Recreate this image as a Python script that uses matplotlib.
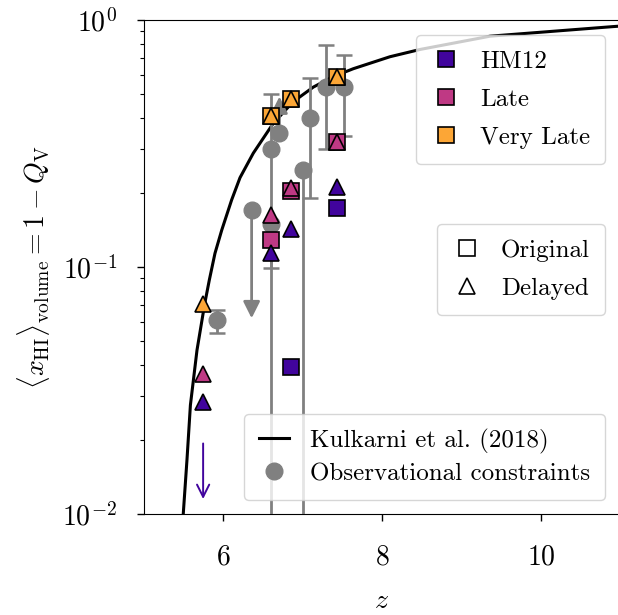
import numpy as np
import matplotlib
matplotlib.use('Agg')
import matplotlib.pyplot as plt
from matplotlib.lines import Line2D

plt.rcParams['font.family'] = 'serif'
plt.rcParams['font.serif'] = ['cmr10']
plt.rcParams['mathtext.fontset'] = 'cm'
plt.rcParams['axes.formatter.use_mathtext'] = True
plt.rcParams['axes.unicode_minus'] = False

# Kulkarni et al. (2018) curve
kul_z = [5.50, 5.547, 5.59, 5.673, 5.77, 5.828, 5.899, 5.984, 6.109, 6.214, 6.381, 6.633,
         6.884, 7.136, 7.387, 7.639, 8.10, 8.48, 9.36, 10.9, 11.0]
kul_x = [0.010, 0.0166, 0.0276, 0.0461, 0.071, 0.0886, 0.1136, 0.141, 0.187, 0.23, 0.289,
         0.382, 0.467, 0.535, 0.59, 0.635, 0.71, 0.76, 0.86, 0.94, 0.945]

# Observational constraints (with errors)
obs_z = [5.92, 6.60, 6.60, 7.00, 7.09, 7.30, 7.52]
obs_x = [0.061, 0.30, 0.15, 0.247, 0.40, 0.537, 0.537]
obs_lo = [0.054, 0.001, 0.099, 0.001, 0.19, 0.30, 0.34]
obs_hi = [0.067, 0.50, 0.15, 0.247, 0.58, 0.79, 0.72]
# observational points without error bar / limits
obs_pt_z = [6.71]
obs_pt_x = [0.35]
upper_lim_z = [6.36]
upper_lim_x = [0.17]
upper_lim_tip = [0.062]
lower_lim_z = [6.71]
lower_lim_x = [0.35]
lower_lim_tip = [0.49]

# Models
model_z = [5.75, 6.60, 6.86, 7.44]
models = ['HM12', 'Late', 'Very Late']
orig = {
    'HM12': [np.nan, np.nan, 0.0395, 0.173],
    'Late': [np.nan, 0.129, 0.204, 0.32],
    'Very Late': [np.nan, 0.41, 0.48, 0.59],
}
delayed = {
    'HM12': [0.0285, 0.114, 0.142, 0.211],
    'Late': [0.037, 0.163, 0.208, 0.32],
    'Very Late': [0.071, 0.41, 0.48, 0.59],
}
hm12_arrow_z = 5.75
hm12_arrow_from = 0.0193
hm12_arrow_to = 0.0115

cmap = plt.get_cmap('plasma')
colors = {'HM12': cmap(0.1), 'Late': cmap(0.45), 'Very Late': cmap(0.8)}
gray = '#808080'

fig = plt.figure(figsize=(6.18, 6.15), dpi=100)
ax = fig.add_axes([143.5 / 618, 1 - 514 / 615, 477 / 618, 494 / 615])

ax.plot(kul_z, kul_x, color='k', lw=2.2, zorder=2)

err = np.array([np.array(obs_x) - np.array(obs_lo), np.array(obs_hi) - np.array(obs_x)])
ax.errorbar(obs_z, obs_x, yerr=err, fmt='o', color=gray, ms=12, elinewidth=2,
            capsize=6, capthick=1.8, zorder=3)
ax.plot(obs_pt_z, obs_pt_x, 'o', color=gray, ms=12, zorder=3)
for z, x0, x1 in zip(upper_lim_z, upper_lim_x, upper_lim_tip):
    ax.plot([z], [x0], 'o', color=gray, ms=12, zorder=3)
    ax.annotate('', xy=(z, x1), xytext=(z, x0),
                arrowprops=dict(arrowstyle='-|>', color=gray, lw=2, mutation_scale=25,
                                shrinkA=0, shrinkB=0), zorder=3)
for z, x0, x1 in zip(lower_lim_z, lower_lim_x, lower_lim_tip):
    ax.annotate('', xy=(z, x1), xytext=(z, x0),
                arrowprops=dict(arrowstyle='-|>', color=gray, lw=2, mutation_scale=25,
                                shrinkA=0, shrinkB=0), zorder=3)

for m in models:
    ax.plot(model_z, orig[m], 's', color=colors[m], mec='k', mew=1.2, ms=12, zorder=4)
for m in models:
    ax.plot(model_z, delayed[m], '^', color=colors[m], mec='k', mew=1.2, ms=12, zorder=5)

ax.annotate('', xy=(hm12_arrow_z, hm12_arrow_to), xytext=(hm12_arrow_z, hm12_arrow_from),
            arrowprops=dict(arrowstyle='->', color=colors['HM12'], lw=1.4, mutation_scale=22,
                            shrinkA=0, shrinkB=0), zorder=5)

ax.set_yscale('log')
ax.set_xlim(5, 11)
ax.set_ylim(1e-2, 1)
ax.set_xticks([6, 8, 10])
ax.set_xticklabels(['$6$', '$8$', '$10$'])
ax.tick_params(axis='both', which='major', labelsize=20, length=5, width=1)
ax.tick_params(axis='y', which='minor', length=3, width=0.8)
ax.tick_params(axis='x', pad=17)
ax.tick_params(axis='y', pad=14)
ax.set_xlabel('$z$', fontsize=20, labelpad=12)
ax.set_ylabel(r'$\langle x_{\rm HI}\rangle_{\rm volume} = 1 - Q_{\rm V}$', fontsize=20, labelpad=7)

fs = 18
common = dict(borderaxespad=0, fontsize=fs, handlelength=1.2, borderpad=0.6)
h1 = [Line2D([], [], marker='s', ls='none', color=colors[m], mec='k', mew=1.2, ms=11, label=m)
      for m in models]
leg1 = ax.legend(handles=h1, loc='upper right', bbox_to_anchor=(0.9675, 0.9696),
                 labelspacing=0.62, handletextpad=0.75, **common)
ax.add_artist(leg1)

h2 = [Line2D([], [], marker='s', ls='none', mfc='w', mec='k', mew=1.2, ms=11, label='Original'),
      Line2D([], [], marker='^', ls='none', mfc='w', mec='k', mew=1.2, ms=11, label='Delayed')]
leg2 = ax.legend(handles=h2, loc='upper right', bbox_to_anchor=(0.9675, 0.587),
                 labelspacing=0.62, handletextpad=0.75, **common)
ax.add_artist(leg2)

h3 = [Line2D([], [], color='k', lw=2.2, label='Kulkarni et al. (2018)'),
      Line2D([], [], marker='o', ls='none', color=gray, ms=12, label='Observational constraints')]
ax.legend(handles=h3, loc='lower right', bbox_to_anchor=(0.9675, 0.0283),
          labelspacing=0.35, handletextpad=0.85, **common)

fig.savefig('out.png', dpi=100)
